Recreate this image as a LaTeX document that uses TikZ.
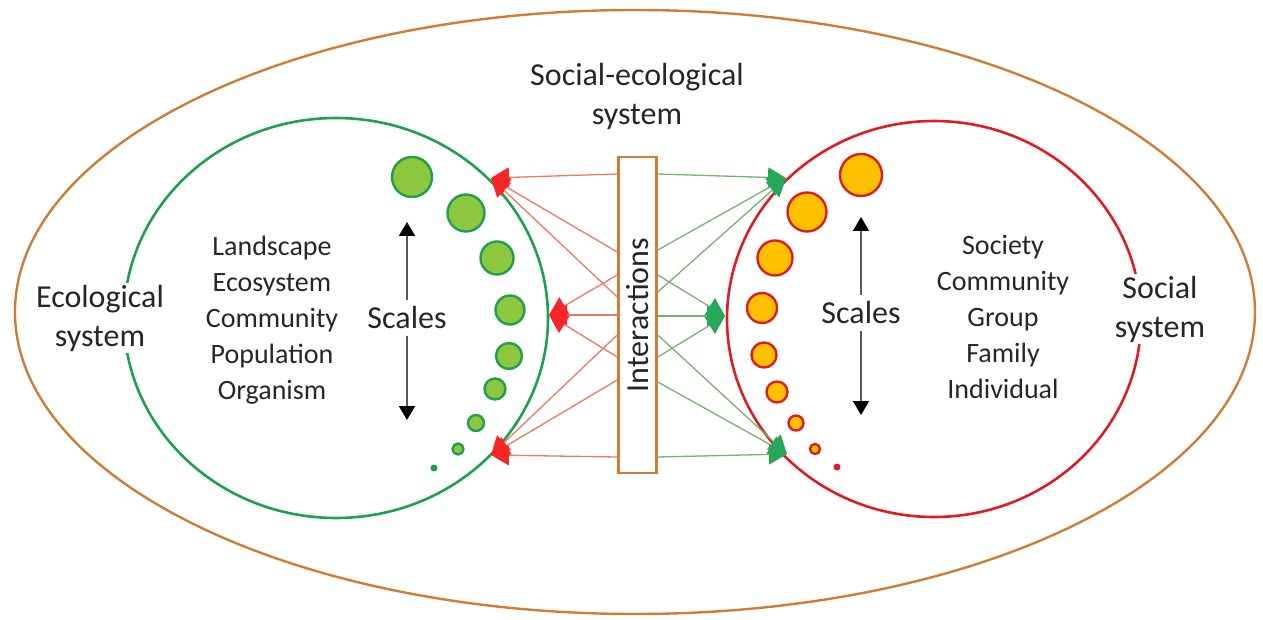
\documentclass[tikz,border=0pt]{standalone}
\usepackage{fontspec}
\setmainfont{Carlito}
\usetikzlibrary{arrows.meta}

\definecolor{sesorange}{RGB}{206,124,54}
\definecolor{ecogreen}{RGB}{30,160,78}
\definecolor{ecofill}{RGB}{141,198,63}
\definecolor{socred}{RGB}{222,28,36}
\definecolor{socfill}{RGB}{255,192,0}
\definecolor{tipred}{RGB}{246,38,38}
\definecolor{tipgreen}{RGB}{38,168,88}
\definecolor{lline}{RGB}{236,122,96}
\definecolor{rline}{RGB}{118,178,112}

\begin{document}
\begin{tikzpicture}[x=1pt,y=-1pt,>=latex,
  big/.style={font=\fontsize{32}{39}\selectfont, align=center, text=black!85},
  lst/.style={font=\fontsize{28}{36}\selectfont, align=center, text=black!85},
  ecodot/.style={draw=ecogreen, fill=ecofill, line width=2.4pt},
  socdot/.style={draw=socred, fill=socfill, line width=2.4pt},
  toeco/.style={draw=lline, line width=1.3pt, -{Triangle[length=18pt,width=20pt,color=tipred]}},
  tosoc/.style={draw=rline, line width=1.3pt, -{Triangle[length=18pt,width=20pt,color=tipgreen]}},
  scalearrow/.style={draw=black!65, line width=2pt, -{Triangle[length=14pt,width=16pt,color=black]}}]

  \useasboundingbox (0,0) rectangle (1263,620);

  % systeme
  \draw[sesorange, line width=2.4pt] (635,312) ellipse[x radius=620pt, y radius=302pt];
  \draw[ecogreen, line width=2.6pt] (336,318) ellipse[x radius=212pt, y radius=200pt];
  \draw[socred, line width=2.6pt] (934,319) ellipse[x radius=207pt, y radius=198pt];

  \node[big] (ses) at (637,96) {Social-ecological\\system};
  \node[big, fill=white, inner sep=2pt] (eco) at (100,318) {Ecological\\system};
  \node[big, fill=white, inner sep=2pt] (soc) at (1160,309) {Social\\system};

  % Skalen
  \node[lst] (ecolist) at (272,320) {Landscape\\Ecosystem\\Community\\Population\\Organism};
  \node[lst] (soclist) at (1003,317) {Society\\Community\\Group\\Family\\Individual};

  \node[big, inner sep=7pt] (ecoscale) at (407,318) {Scales};
  \node[big, inner sep=7pt] (socscale) at (861,313) {Scales};
  \coordinate (ecoup) at (407,222);
  \coordinate (ecodown) at (407,420);
  \coordinate (socup) at (861,217);
  \coordinate (socdown) at (861,415);
  \draw[scalearrow] (ecoscale) -- (ecoup);
  \draw[scalearrow] (ecoscale) -- (ecodown);
  \draw[scalearrow] (socscale) -- (socup);
  \draw[scalearrow] (socscale) -- (socdown);

  \foreach \x/\y/\r in {412/177/20, 466/213/18.5, 497/258/16.5, 510/310/14.5,
                        509/356/13, 495/389/10.5, 476/423/8, 458/449/5.5} {
    \draw[ecodot] (\x,\y) circle[radius=\r pt];
  }
  \fill[ecogreen] (434,468) circle[radius=3.5pt];

  \foreach \x/\y/\r in {861/175/21, 807/212/19.5, 775/258/17.5, 762/308/15,
                        764/355/12.5, 777/392/10.5, 796/423/7.5, 815/449/5} {
    \draw[socdot] (\x,\y) circle[radius=\r pt];
  }
  \fill[socred] (837,467) circle[radius=3.5pt];

  % Interaktionen
  \node[draw=sesorange, line width=2.6pt, minimum width=38pt, minimum height=316pt,
        inner sep=0pt] (inter) at (637.5,315) {};
  \node[big, rotate=90] (intertext) at (inter.center) {Interactions};

  \coordinate (ecoT) at (491,178);
  \coordinate (ecoM) at (549,315);
  \coordinate (ecoB) at (491,455);
  \coordinate (socT) at (786,178);
  \coordinate (socM) at (725,316);
  \coordinate (socB) at (787,454);

  \foreach \y/\t in {174/ecoT, 252/ecoT, 297/ecoT, 275/ecoM, 315/ecoM, 357/ecoM,
                     335/ecoB, 380/ecoB, 457/ecoB} {
    \draw[toeco] (inter.west |- 0,\y) -- (\t);
  }
  \foreach \y/\t in {174/socT, 250/socT, 292/socT, 275/socM, 316/socM, 357/socM,
                     335/socB, 382/socB, 457/socB} {
    \draw[tosoc] (inter.east |- 0,\y) -- (\t);
  }

\end{tikzpicture}
\end{document}
